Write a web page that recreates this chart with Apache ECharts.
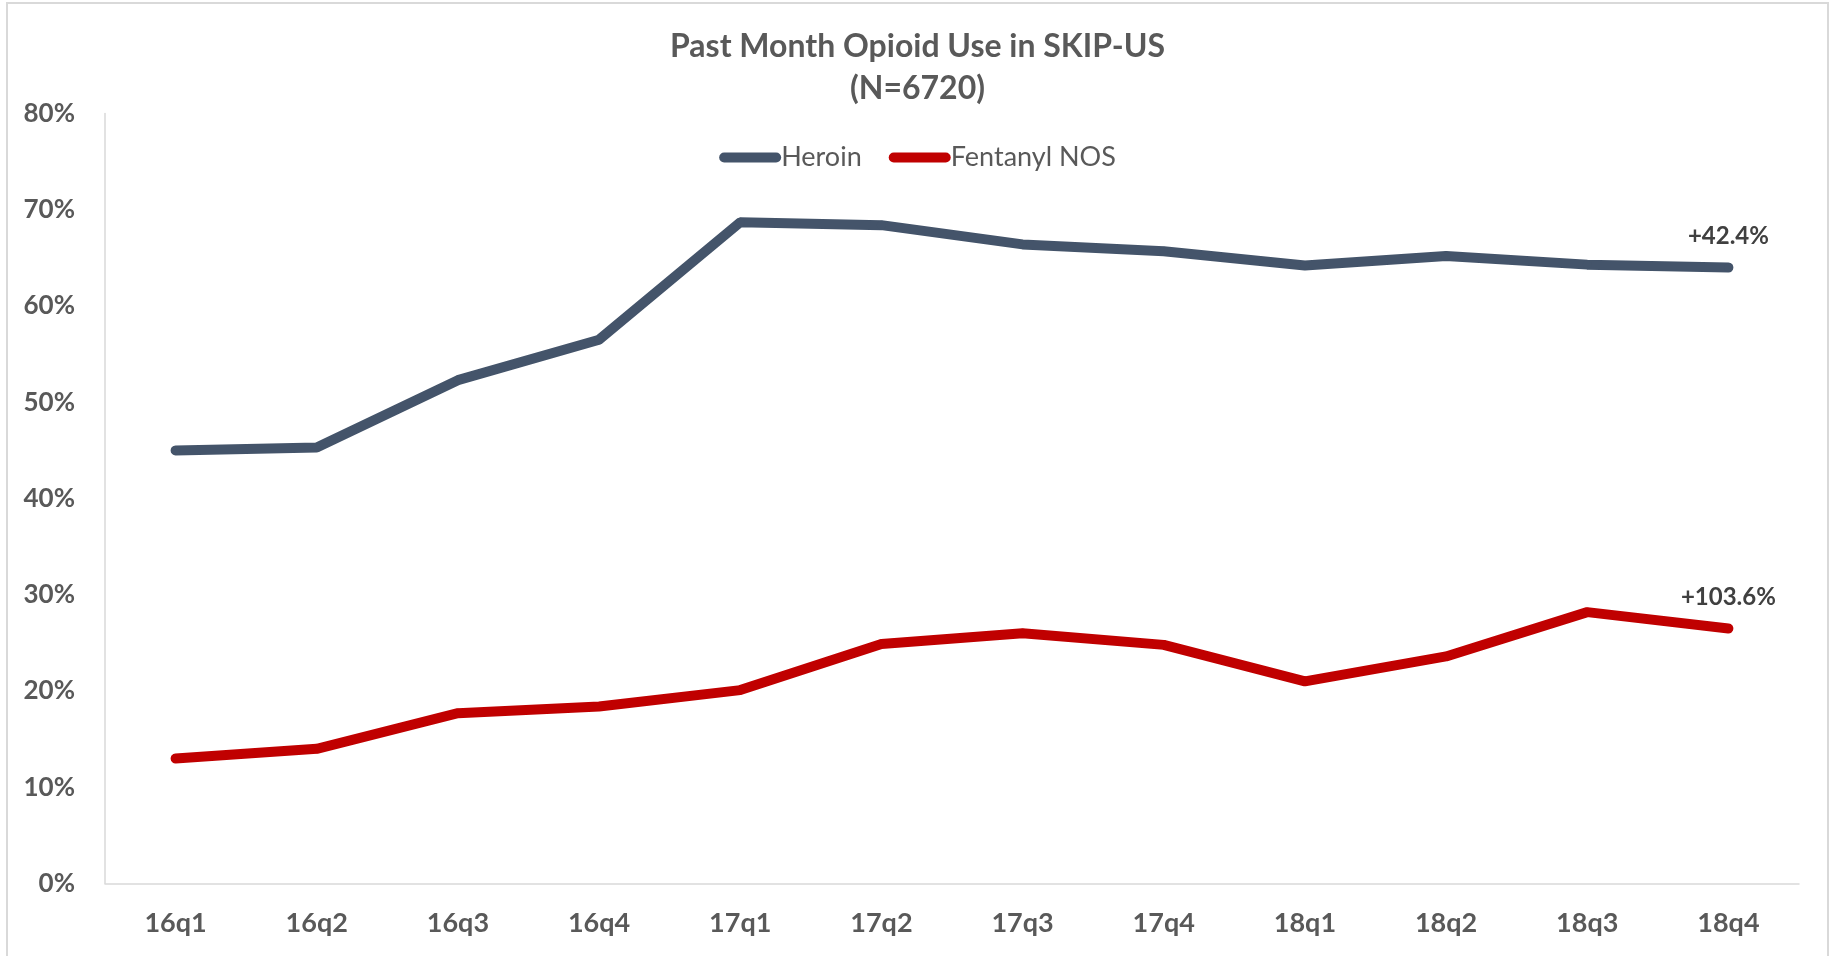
<!DOCTYPE html>
<html>
<head>
<meta charset="utf-8">
<script src="https://cdn.jsdelivr.net/npm/echarts@6/dist/echarts.min.js"></script>
<style>
    html, body { margin: 0; padding: 0; background: #fff; }
    #main { width: 1835px; height: 956px; }
</style>
</head>
<body>
<div id="main"></div>
<script>
var quarters = ['16q1', '16q2', '16q3', '16q4', '17q1', '17q2', '17q3', '17q4', '18q1', '18q2', '18q3', '18q4']
var heroin = [45.0, 45.3, 52.3, 56.5, 68.7, 68.4, 66.4, 65.7, 64.2, 65.2, 64.3, 64.0]
var fentanyl = [13.0, 14.0, 17.7, 18.4, 20.1, 24.9, 26.0, 24.8, 21.0, 23.6, 28.2, 26.5]
var changeLabels = ['+42.4%', '+103.6%']
var yTicks = [0, 10, 20, 30, 40, 50, 60, 70, 80]

var grey = '#595959'

// only the last point gets the % change label
function withEndLabel(values, text) {
    return values.map(function (v, i) {
        if (i !== values.length - 1) return v
        return {
            value: v,
            label: {
                show: true,
                position: 'top',
                distance: 15,
                formatter: text,
                fontWeight: 'bold',
                fontSize: 24,
                color: '#404040'
            }
        }
    })
}

var myChart = echarts.init(document.getElementById('main'))

var option = {
    backgroundColor: '#fff',
    textStyle: { fontFamily: 'Lato' },
    animation: false,
    title: {
        text: 'Past Month Opioid Use in SKIP-US\n(N=6720)',
        left: 'center',
        top: 21,
        textStyle: {
            fontFamily: 'Lato',
            fontSize: 32,
            fontWeight: 'bold',
            color: grey,
            lineHeight: 42
        }
    },
    legend: {
        data: ['Heroin', 'Fentanyl NOS'],
        left: 'center',
        top: 139,
        itemWidth: 62,
        itemHeight: 10,
        itemGap: 27,
        icon: 'path://M5,0 H57 A5,5 0 0 1 57,10 H5 A5,5 0 0 1 5,0 Z',
        textStyle: { fontSize: 27, color: grey, padding: [0, 0, 0, -5] }
    },
    grid: {
        left: 105,
        right: 36,
        top: 113.5,
        bottom: 72.4,
        containLabel: false
    },
    xAxis: {
        type: 'category',
        data: quarters,
        boundaryGap: true,
        axisLine: { lineStyle: { color: '#D9D9D9', width: 1.5 } },
        axisTick: { show: false },
        axisLabel: { fontSize: 27, fontWeight: 'bold', color: grey, margin: 26 }
    },
    yAxis: {
        type: 'value',
        min: yTicks[0],
        max: yTicks[yTicks.length - 1],
        interval: 10,
        axisLine: { show: true, lineStyle: { color: '#D9D9D9', width: 1.5 } },
        axisTick: { show: false },
        splitLine: { show: false },
        axisLabel: {
            fontSize: 26,
            fontWeight: 'bold',
            color: grey,
            margin: 30,
            formatter: '{value}%'
        }
    },
    series: [{
        name: 'Heroin',
        type: 'line',
        data: withEndLabel(heroin, changeLabels[0]),
        symbol: 'circle',
        symbolSize: 9,
        itemStyle: { color: '#44546A' },
        lineStyle: { color: '#44546A', width: 10, cap: 'round' }
    }, {
        name: 'Fentanyl NOS',
        type: 'line',
        data: withEndLabel(fentanyl, changeLabels[1]),
        symbol: 'circle',
        symbolSize: 9,
        itemStyle: { color: '#C00000' },
        lineStyle: { color: '#C00000', width: 10, cap: 'round' }
    }],
    graphic: [{
        type: 'rect',
        shape: { x: 7, y: 3, width: 1821, height: 970 },
        style: { fill: null, stroke: '#D9D9D9', lineWidth: 2 },
        silent: true
    }]
}

myChart.setOption(option)
</script>
</body>
</html>
